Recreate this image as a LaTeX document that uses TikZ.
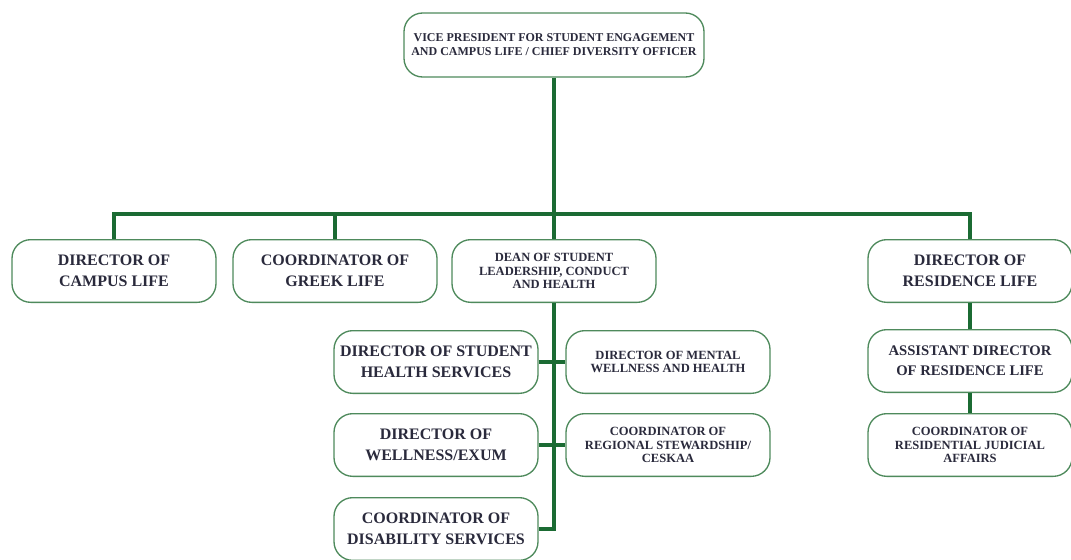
\documentclass[tikz,border=0pt]{standalone}
\usepackage{fontspec}
\setmainfont{Liberation Serif}
\begin{document}
\begin{tikzpicture}[x=0.75pt,y=-0.75pt,
  box/.style={draw=boxline,fill=white,line width=1pt,rounded corners=14pt,
    align=center,text=boxtext,minimum width=153pt,minimum height=47pt,inner sep=2pt},
  big/.style={box,font=\fontsize{12}{15.5}\selectfont\bfseries},
  small/.style={box,font=\fontsize{9.4}{10.2}\selectfont\bfseries},
  link/.style={draw=linkgreen,line width=3.2pt}]
  \definecolor{boxline}{HTML}{4E8A5C}
  \definecolor{boxtext}{HTML}{2A2A3C}
  \definecolor{linkgreen}{HTML}{1B6B33}
  \useasboundingbox (0,0) rectangle (1071,560);
  % top
  \node [small,font=\fontsize{9}{10.5}\selectfont\bfseries,minimum width=225pt,minimum height=48pt] (vp) at (554,45)
    {VICE PRESIDENT FOR STUDENT ENGAGEMENT\\AND CAMPUS LIFE / CHIEF DIVERSITY OFFICER};
  % first row
  \node [big] (campus) at (114,271) {DIRECTOR OF\\CAMPUS LIFE};
  \node [big] (greek) at (335,271) {COORDINATOR OF\\GREEK LIFE};
  \node [small] (dean) at (554,271) {DEAN OF STUDENT\\LEADERSHIP, CONDUCT\\AND HEALTH};
  \node [big] (resid) at (970,271) {DIRECTOR OF\\RESIDENCE LIFE};
  % under the dean
  \node [big] (health) at (436,362) {DIRECTOR OF STUDENT\\HEALTH SERVICES};
  \node [small] (mental) at (668,362) {DIRECTOR OF MENTAL\\WELLNESS AND HEALTH};
  \node [big] (exum) at (436,445) {DIRECTOR OF\\WELLNESS/EXUM};
  \node [small] (steward) at (668,445) {COORDINATOR OF\\REGIONAL STEWARDSHIP/\\CESKAA};
  \node [big] (disab) at (436,529) {COORDINATOR OF\\DISABILITY SERVICES};
  % under residence life
  \node [small,font=\fontsize{11}{15}\selectfont\bfseries] (asst) at (970,361) {ASSISTANT DIRECTOR\\OF RESIDENCE LIFE};
  \node [small] (judic) at (970,445) {COORDINATOR OF\\RESIDENTIAL JUDICIAL\\AFFAIRS};
  % links
  \draw [link] (vp.south) -- (dean.north);
  \draw [link] (campus.north) -- ++(0,-25) -| (resid.north);
  \draw [link] (greek.north) -- ++(0,-25);
  \draw [link] (dean.south) |- (disab.east);
  \draw [link] (health.east) -- (mental.west);
  \draw [link] (exum.east) -- (steward.west);
  \draw [link] (resid) -- (asst);
  \draw [link] (asst) -- (judic);
\end{tikzpicture}
\end{document}
